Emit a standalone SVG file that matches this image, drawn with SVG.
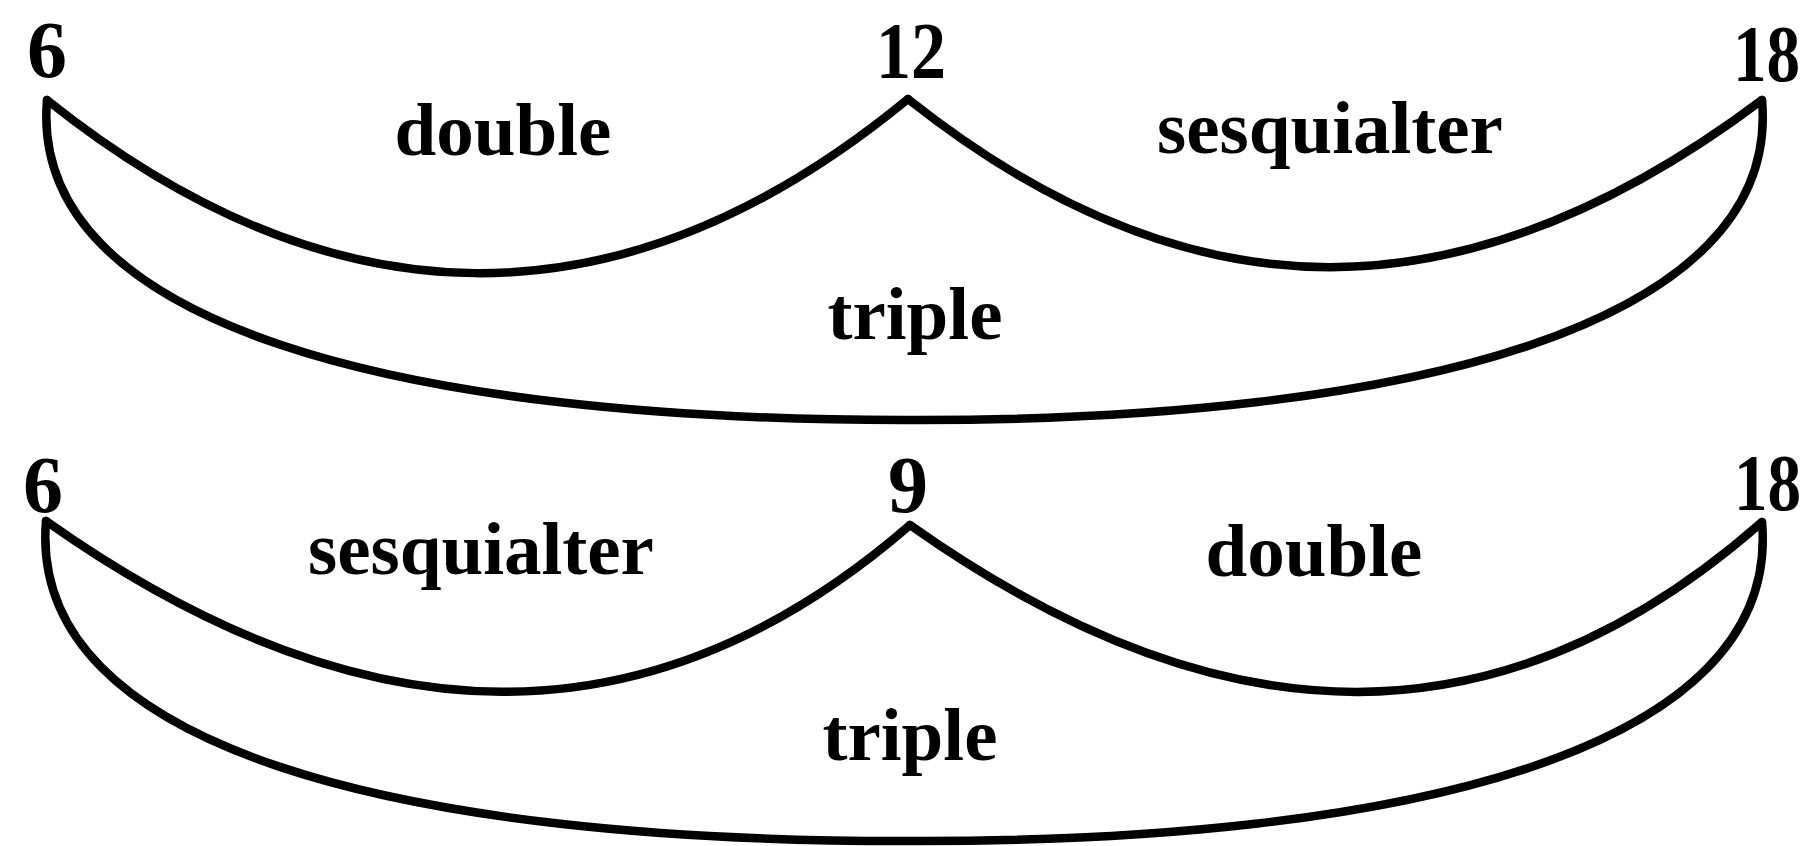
<svg xmlns="http://www.w3.org/2000/svg" width="1807" height="846" viewBox="0 0 1807 846">
<style>
.num{font-family:"Liberation Serif","Times New Roman",serif;font-weight:bold;font-size:80px;fill:#000}
.lbl{font-family:"Liberation Serif","Times New Roman",serif;font-weight:bold;font-size:75px;text-anchor:middle;fill:#000}
.arc{fill:none;stroke:#000;stroke-width:8.5;stroke-linecap:round;stroke-linejoin:round}
</style>
<rect width="1807" height="846" fill="#fff"/>
<g id="n-top-6"><text class="num" x="27" y="77" textLength="40" lengthAdjust="spacingAndGlyphs">6</text></g>
<g id="n-top-12"><text class="num" x="876" y="78" textLength="70" lengthAdjust="spacingAndGlyphs">12</text></g>
<g id="n-top-18"><text class="num" transform="translate(1733 81) scale(0.84 1)">18</text></g>
<g id="n-bot-6"><text class="num" x="23" y="512" textLength="40" lengthAdjust="spacingAndGlyphs">6</text></g>
<g id="n-bot-9"><text class="num" x="888" y="512" textLength="40" lengthAdjust="spacingAndGlyphs">9</text></g>
<g id="n-bot-18"><text class="num" transform="translate(1734 510) scale(0.84 1)">18</text></g>
<g id="connectors">
<path class="arc" d="M47 100 C330 326 620 336 908 99"/>
<path class="arc" d="M908 99 C1190 323 1465 323 1762 100"/>
<path class="arc" d="M47 100 C28 325 400 421 912 420 C1410 421 1782 325 1762 100"/>
<path class="arc" d="M46 521 C367 748 653 748 910 525"/>
<path class="arc" d="M910 525 C1225 748 1505 748 1762 522"/>
<path class="arc" d="M46 521 C27 749 400 842 912 841 C1410 842 1782 749 1762 522"/>
</g>
<g id="labels">
<text class="lbl" x="503" y="155">double</text>
<text class="lbl" x="1330" y="153">sesquialter</text>
<text class="lbl" x="915" y="339">triple</text>
<text class="lbl" x="481" y="574">sesquialter</text>
<text class="lbl" x="1314" y="576">double</text>
<text class="lbl" x="910" y="760">triple</text>
</g>
</svg>
